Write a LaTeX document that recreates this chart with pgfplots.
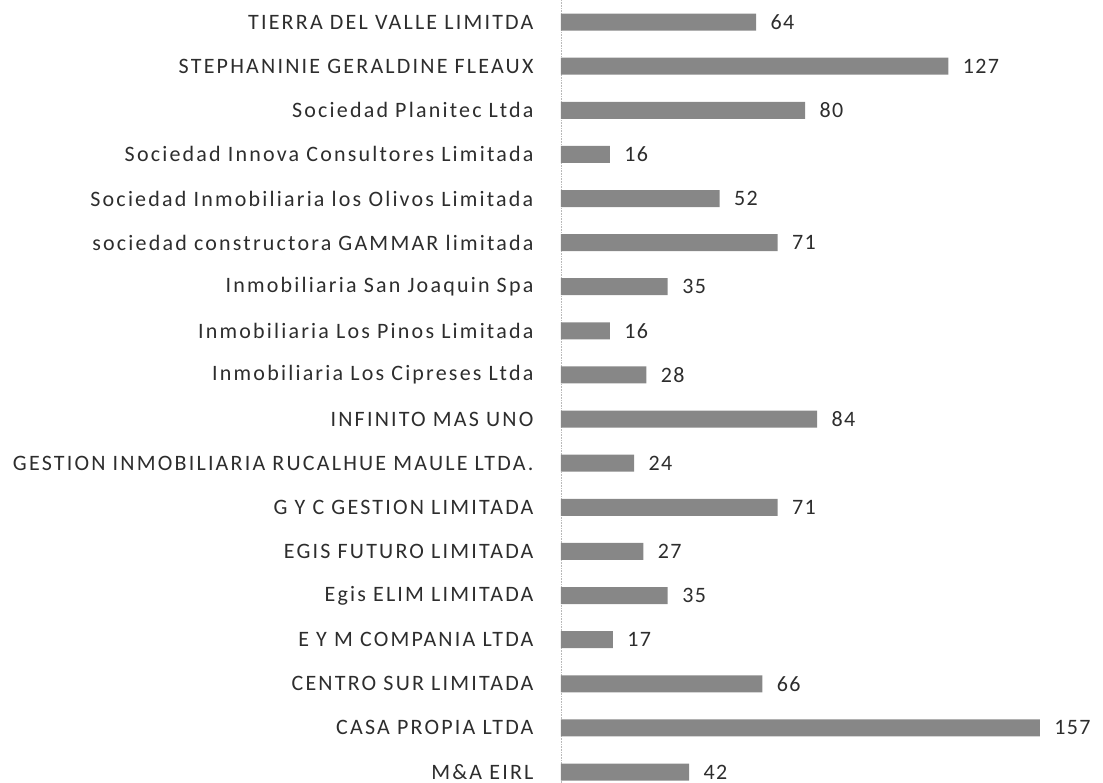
\documentclass[border=0pt]{standalone}
\usepackage{pgfplots}
\pgfplotsset{compat=1.18}
\usepackage{fontspec}
\setmainfont{Carlito}
\newfontfamily\lab[LetterSpace=10]{Carlito}
\newfontfamily\num[LetterSpace=6]{Carlito}
\definecolor{barc}{RGB}{135,135,135}
\definecolor{txt}{RGB}{45,45,45}
\begin{document}
\begin{tikzpicture}
\begin{axis}[
  scale only axis,
  width=542pt, height=783pt,
  xmin=0, xmax=177.7,
  ymin=-0.249, ymax=17.5,
  hide x axis,
  axis y line*=left,
  y axis line style={gray!55, densely dotted, line width=0.6pt},
  ytick={0,...,17},
  yticklabels={M\&A EIRL, CASA PROPIA LTDA, CENTRO SUR LIMITADA, E Y M COMPANIA LTDA, Egis ELIM LIMITADA, EGIS FUTURO LIMITADA, G Y C GESTION LIMITADA, GESTION INMOBILIARIA RUCALHUE MAULE LTDA., INFINITO MAS UNO, Inmobiliaria Los Cipreses Ltda, Inmobiliaria Los Pinos Limitada, Inmobiliaria San Joaquin Spa, sociedad constructora GAMMAR limitada, Sociedad Inmobiliaria los Olivos Limitada, Sociedad Innova Consultores Limitada, Sociedad Planitec Ltda, STEPHANINIE GERALDINE FLEAUX, TIERRA DEL VALLE LIMITDA},
  major tick length=0pt,
  yticklabel style={font=\lab\fontsize{22}{24}\selectfont, text=txt, xshift=-24pt},
  xbar, bar width=17pt,
  nodes near coords,
  nodes near coords style={font=\num\fontsize{22}{24}\selectfont, text=txt, xshift=11pt},
  /pgf/number format/assume math mode=true,
]
\addplot[fill=barc, draw=none] coordinates {
(42,0) (157,1) (66,2) (17,3) (35,4) (27,5) (71,6) (24,7) (84,8) (28,9)
(16,10) (35,11) (71,12) (52,13) (16,14) (80,15) (127,16) (64,17)
};
\end{axis}
\pgfresetboundingbox
\path[use as bounding box] ([xshift=-561pt]current axis.south west) rectangle (current axis.north east);
\end{tikzpicture}
\end{document}
